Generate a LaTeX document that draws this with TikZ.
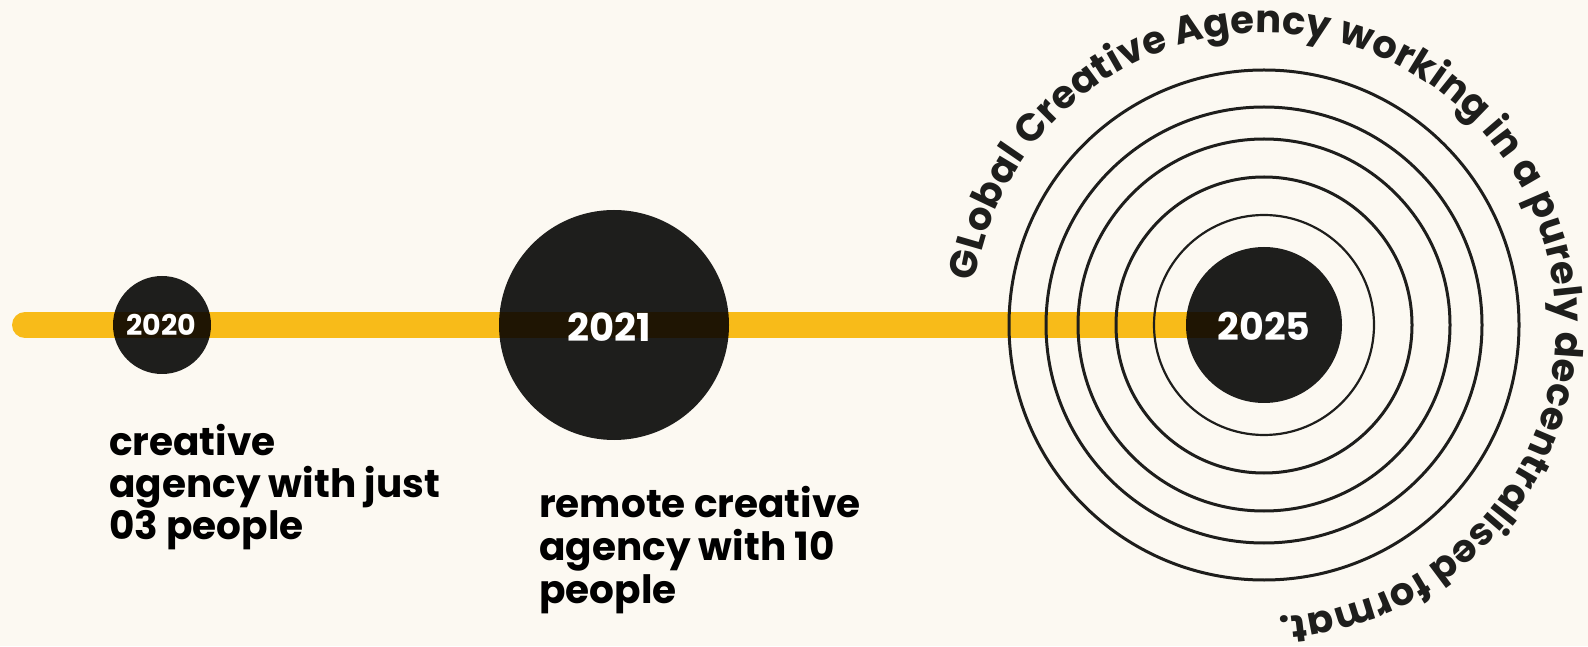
\documentclass[tikz,border=0pt]{standalone}
\usepackage{fontspec}
\setmainfont{Poppins}
\usetikzlibrary{decorations.text}
\definecolor{bg}{HTML}{FCF9F2}
\definecolor{barcol}{HTML}{F8BB19}
\definecolor{ink}{HTML}{1E1E1C}
\definecolor{overlap}{HTML}{1F1503}
\newcommand\curvefont{\fontsize{38.5}{38.5}\selectfont\bfseries\color{ink}}
\tikzset{
  dot/.style={fill=ink, draw=none},
  ring/.style={draw=ink, line width=3pt},
  thinring/.style={draw=ink, line width=2.2pt},
  bar/.style={line width=26pt, line cap=round},
  year/.style={text=white, font=\bfseries, inner sep=0pt},
  caption/.style={text=black, font=\fontsize{39}{42}\selectfont\bfseries, inner sep=0pt, anchor=base west}
}
\begin{document}
\begin{tikzpicture}[x=1pt, y=1pt]
\fill[bg] (0,0) rectangle (1588,646);
\useasboundingbox (0,0) rectangle (1588,646);

\coordinate (c20) at (162,321);
\coordinate (c21) at (614,321);
\coordinate (c25) at (1264,321);
\coordinate (barstart) at (25,321);
\coordinate (barend) at (1230,321);

% filled circles
\fill[dot] (c20) circle[radius=49];
\fill[dot] (c21) circle[radius=115];
\fill[dot] (c25) circle[radius=78];

% timeline bar
\draw[bar, barcol] (barstart) -- (barend);
\begin{scope}
  \clip (c20) circle[radius=49];
  \draw[bar, overlap] (barstart) -- (barend);
\end{scope}
\begin{scope}
  \clip (c21) circle[radius=115];
  \draw[bar, overlap] (barstart) -- (barend);
\end{scope}
\begin{scope}
  \clip (c25) circle[radius=78];
  \draw[bar, overlap] (barstart) -- (barend);
\end{scope}

% concentric rings
\draw[thinring] (c25) circle[radius=110];
\draw[ring] (c25) circle[radius=148];
\draw[ring] (c25) circle[radius=186];
\draw[ring] (c25) circle[radius=218];
\draw[ring] (c25) circle[radius=255];

% years
\node[year, font=\fontsize{28.5}{28.5}\selectfont\bfseries] (y20) at (161,321) {2020};
\node[year, font=\fontsize{38.5}{38.5}\selectfont\bfseries] (y21) at (609,319) {2021};
\node[year, font=\fontsize{38}{38}\selectfont\bfseries] (y25) at (1264,320) {2025};

% captions
\node[caption] (t20a) at (109,191) {creative};
\node[caption] (t20b) at (109,149) {agency with just};
\node[caption] (t20c) at (109,107) {03 people};

\node[caption] (t21a) at (539,129) {remote creative};
\node[caption] (t21b) at (539,86) {agency with 10};
\node[caption] (t21c) at (539,43) {people};

% curved text
\path[decorate, decoration={text along path, text align=fit to path,
  text={|\curvefont|GLobal Creative Agency working in a purely decentralised format.}}]
  (c25) ++(171.4:292) arc[start angle=171.4, end angle=-87, radius=292];
\end{tikzpicture}
\end{document}
